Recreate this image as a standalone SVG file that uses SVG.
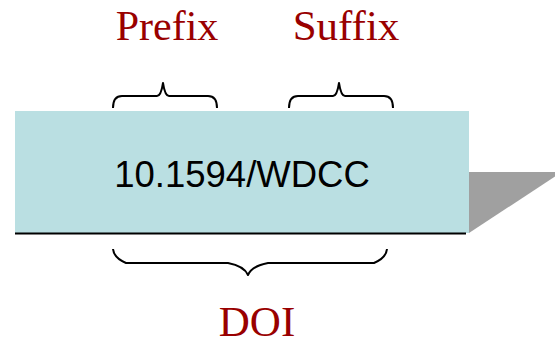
<svg xmlns="http://www.w3.org/2000/svg" width="555" height="341" viewBox="0 0 555 341">
<style>
.lbl{font-family:"Liberation Serif","Times New Roman",serif;font-size:42px;fill:#990000;text-anchor:middle}
.brace{fill:none;stroke:#000;stroke-width:2;stroke-linejoin:round}
.main{font-family:"Liberation Sans",Arial,sans-serif;font-size:36.5px;fill:#000;text-anchor:middle}
</style>
<rect width="555" height="341" fill="#fff"/>
<g id="shadow">
<polygon points="469,172 562,172 469,233" fill="#a0a0a0"/>
</g>
<g id="doi-box">
<rect x="15" y="111" width="454" height="122" fill="#badfe2"/>
<line x1="15" y1="233.5" x2="466" y2="233.5" stroke="#000" stroke-width="2"/>
<text class="main" x="242" y="187">10.1594/WDCC</text>
</g>
<g id="braces">
<path class="brace" d="M113,108 Q113,96 122,96 L157,96 Q161,96 163,83 Q165,96 169,96 L208,96 Q217,96 217,108"/>
<path class="brace" d="M289,108 Q289,96 298,96 L333,96 Q337,96 339,83 Q341,96 345,96 L384,96 Q393,96 393,108"/>
<path class="brace" d="M113,249 Q114,258 126,263 L228,263 Q244,266 248,275 Q252,266 268,263 L374,263 Q386,258 387,249"/>
</g>
<g id="prefix"><text class="lbl" x="167" y="40">Prefix</text></g>
<g id="suffix"><text class="lbl" x="346" y="40" style="font-size:43px">Suffix</text></g>
<g id="doi"><text class="lbl" x="257" y="336" style="font-size:43px">DOI</text></g>
</svg>
